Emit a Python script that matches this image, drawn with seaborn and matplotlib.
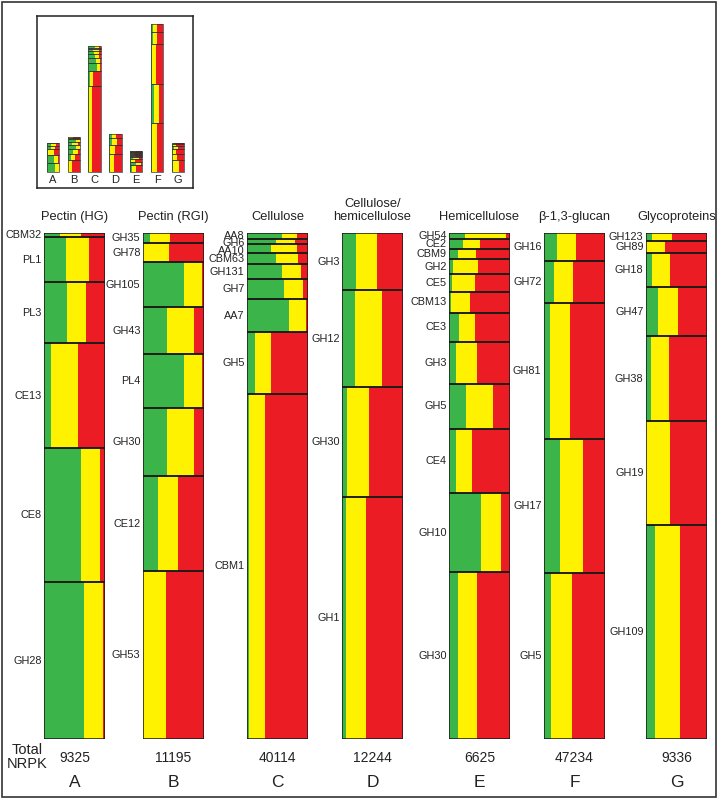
import numpy as np
import matplotlib.pyplot as plt
import seaborn as sns

sns.set_theme(style="white")
plt.rcParams['font.family'] = ['Liberation Sans', 'DejaVu Sans']

GREEN = '#3bb44a'
YELLOW = '#fff200'
RED = '#ec1c24'

# share of each family in the column total (%), and green / yellow fractions
# within each family (red = the rest)

# A - Pectin (HG)
hg_fam = ['CBM32', 'PL1', 'PL3', 'CE13', 'CE8', 'GH28']
hg_share = [0.8, 8.9, 12.1, 20.8, 26.5, 31.0]
hg_green = [0.27, 0.36, 0.37, 0.11, 0.60, 0.66]
hg_yellow = [0.33, 0.37, 0.32, 0.45, 0.32, 0.30]

# B - Pectin (RGI)
rgi_fam = ['GH35', 'GH78', 'GH105', 'GH43', 'PL4', 'GH30', 'CE12', 'GH53']
rgi_share = [2.0, 3.8, 8.9, 9.3, 10.7, 13.4, 18.8, 33.2]
rgi_green = [0.12, 0.0, 0.68, 0.39, 0.68, 0.40, 0.24, 0.0]
rgi_yellow = [0.32, 0.43, 0.29, 0.44, 0.28, 0.43, 0.33, 0.37]

# C - Cellulose
cel_fam = ['AA8', 'GH6', 'AA10', 'CBM63', 'GH131', 'GH7', 'AA7', 'GH5', 'CBM1']
cel_share = [1.2, 1.0, 1.8, 2.2, 3.0, 3.8, 6.7, 12.1, 68.4]
cel_green = [0.57, 0.47, 0.39, 0.47, 0.57, 0.61, 0.69, 0.13, 0.04]
cel_yellow = [0.25, 0.32, 0.43, 0.36, 0.31, 0.31, 0.27, 0.26, 0.26]

# D - Cellulose/hemicellulose
ch_fam = ['GH3', 'GH12', 'GH30', 'GH1']
ch_share = [11.3, 19.2, 21.7, 47.8]
ch_green = [0.23, 0.21, 0.09, 0.06]
ch_yellow = [0.34, 0.45, 0.35, 0.34]

# E - Hemicellulose
hem_fam = ['GH54', 'CE2', 'CBM9', 'GH2', 'CE5', 'CBM13', 'CE3', 'GH3',
           'GH5', 'CE4', 'GH10', 'GH30']
hem_share = [1.2, 2.0, 2.0, 3.0, 3.4, 4.2, 5.7, 8.3, 8.9, 12.8, 15.6, 33.0]
hem_green = [0.26, 0.23, 0.15, 0.07, 0.05, 0.04, 0.17, 0.11, 0.28, 0.11, 0.52, 0.15]
hem_yellow = [0.67, 0.28, 0.30, 0.40, 0.37, 0.30, 0.26, 0.35, 0.44, 0.27, 0.34, 0.31]

# F - beta-1,3-glucan
glu_fam = ['GH16', 'GH72', 'GH81', 'GH17', 'GH5']
glu_share = [5.5, 8.3, 26.9, 26.5, 32.8]
glu_green = [0.21, 0.16, 0.10, 0.26, 0.12]
glu_yellow = [0.32, 0.31, 0.33, 0.38, 0.34]

# G - Glycoproteins
gly_fam = ['GH123', 'GH89', 'GH18', 'GH47', 'GH38', 'GH19', 'GH109']
gly_share = [1.6, 2.4, 6.7, 9.7, 16.8, 20.6, 42.3]
gly_green = [0.10, 0.0, 0.10, 0.19, 0.08, 0.0, 0.15]
gly_yellow = [0.32, 0.31, 0.29, 0.33, 0.29, 0.40, 0.41]

titles = ['Pectin (HG)', 'Pectin (RGI)', 'Cellulose', 'Cellulose/\nhemicellulose',
          'Hemicellulose', 'β-1,3-glucan', 'Glycoproteins']
letters = ['A', 'B', 'C', 'D', 'E', 'F', 'G']
totals = [9325, 11195, 40114, 12244, 6625, 47234, 9336]

columns = [
    (hg_fam, hg_share, hg_green, hg_yellow),
    (rgi_fam, rgi_share, rgi_green, rgi_yellow),
    (cel_fam, cel_share, cel_green, cel_yellow),
    (ch_fam, ch_share, ch_green, ch_yellow),
    (hem_fam, hem_share, hem_green, hem_yellow),
    (glu_fam, glu_share, glu_green, glu_yellow),
    (gly_fam, gly_share, gly_green, gly_yellow),
]

W, H = 719, 800
fig = plt.figure(figsize=(W / 100, H / 100), dpi=100)
fig.patches.append(plt.Rectangle((2 / W, 3 / H), 714 / W, 795 / H, transform=fig.transFigure,
                                 fill=False, edgecolor='#333333', lw=1.2))

# main panels
lefts = [44, 143, 247, 342, 449, 544, 646]
bw = 61
top_px, bot_px = 233, 739
min_gap = 7.4 / (bot_px - top_px) * 100  # keep small labels from piling up

for i, (fam, share, green, yellow) in enumerate(columns):
    ax = fig.add_axes([lefts[i] / W, 1 - bot_px / H, bw / W, (bot_px - top_px) / H])
    s = np.array(share) / np.sum(share) * 100
    g = np.array(green)
    y = np.array(yellow)
    r = 1 - g - y
    tops = np.concatenate([[0], np.cumsum(s)[:-1]])
    ax.barh(tops, g, height=s, left=0, align='edge', color=GREEN, lw=0)
    ax.barh(tops, y, height=s, left=g, align='edge', color=YELLOW, lw=0)
    ax.barh(tops, r, height=s, left=g + y, align='edge', color=RED, lw=0)
    ax.barh(tops, 1, height=s, left=0, align='edge', fill=False, edgecolor='#1a1a1a', lw=1.1)
    ax.set_xlim(0, 1)
    ax.set_ylim(100, 0)
    ax.axis('off')
    prev = -10
    for name, t, h in zip(fam, tops, s):
        yc = max(t + h / 2, prev + min_gap)
        prev = yc
        ax.text(-0.04, yc, name, ha='right', va='center', fontsize=7.8, color='#222222')
    ax.text(0.5, 1.026, titles[i], transform=ax.transAxes, ha='center', va='baseline',
            fontsize=9.3, linespacing=1.05, color='#222222')
    ax.text(0.5, -0.045, str(totals[i]), transform=ax.transAxes, ha='center', va='baseline',
            fontsize=10, color='#222222')
    ax.text(0.5, -0.095, letters[i], transform=ax.transAxes, ha='center', va='baseline',
            fontsize=12.5, color='#222222')

fig.text(27.5 / W, 1 - 757 / H, 'Total\nNRPK', ha='center', va='center', fontsize=10.5,
         linespacing=0.95, color='#222222')

# inset: bars scaled by total NRPK
axi = fig.add_axes([37 / W, 1 - 188 / H, 156 / W, 172 / H])
tmax = max(totals)
axi.set_xlim(-0.77, 6.73)
axi.set_ylim(-16 / 148 * tmax, tmax + 8 / 148 * tmax)
iw = 0.6
for i, (fam, share, green, yellow) in enumerate(columns):
    s = np.array(share) / np.sum(share) * totals[i]
    g = np.array(green)
    y = np.array(yellow)
    r = 1 - g - y
    bottoms = totals[i] - np.cumsum(s)
    x0 = i - iw / 2
    axi.bar(x0, s, width=g * iw, bottom=bottoms, align='edge', color=GREEN, lw=0)
    axi.bar(x0 + g * iw, s, width=y * iw, bottom=bottoms, align='edge', color=YELLOW, lw=0)
    axi.bar(x0 + (g + y) * iw, s, width=r * iw, bottom=bottoms, align='edge', color=RED, lw=0)
    axi.bar(x0, s, width=iw, bottom=bottoms, align='edge', fill=False,
            edgecolor='#333333', lw=0.5)
    axi.annotate(letters[i], (i, 0), xytext=(0, -2), textcoords='offset points',
                 ha='center', va='top', fontsize=8, color='#222222')
axi.set_xticks([])
axi.set_yticks([])
for sp in axi.spines.values():
    sp.set_visible(True)
    sp.set_color('#222222')
    sp.set_linewidth(1.1)

fig.savefig('out.png', dpi=100)
